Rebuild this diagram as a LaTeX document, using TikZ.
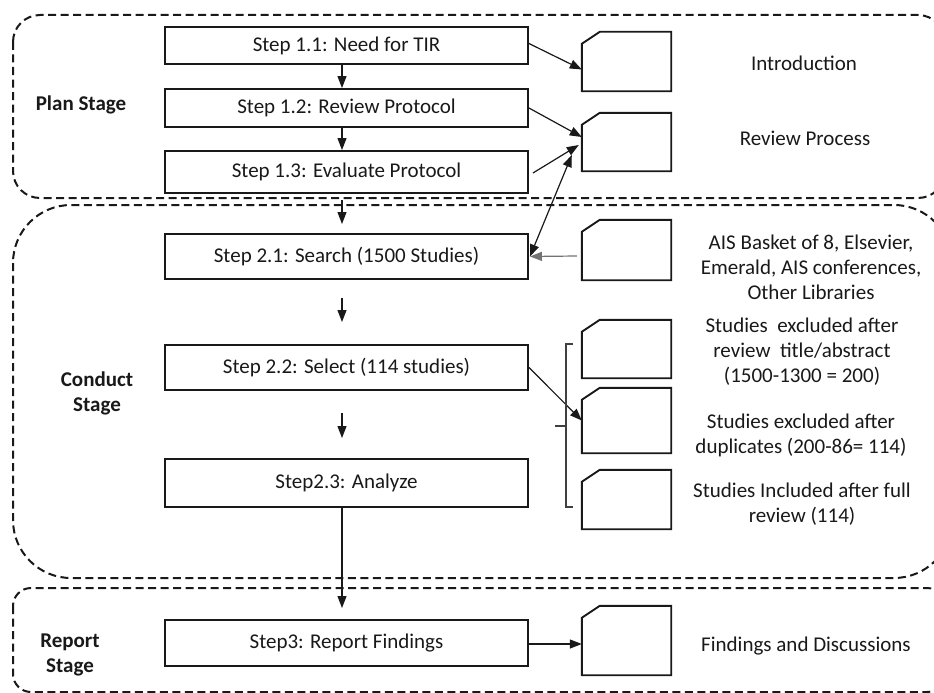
\documentclass[tikz,border=0pt]{standalone}
\usepackage{fontspec}
\setmainfont{Carlito}
\usetikzlibrary{arrows.meta}

% document-style shape: rectangle with a cut top-left corner
\newcommand\drawdoc[3]{%
  \node[docbox, minimum height=#3pt] (#1) at (626.5,#2) {};
  \draw[docline] ([yshift=-12pt]#1.north west) -- ([xshift=18pt]#1.north west)
    -- (#1.north east) -- (#1.south east) -- (#1.south west) -- cycle;}

\begin{document}
\begin{tikzpicture}[x=1pt,y=-1pt,
  every node/.style={font=\fontsize{21}{25}\selectfont, text=black!90},
  stage/.style={draw=black!90, line width=2pt, dash pattern=on 8pt off 4.5pt},
  stepbox/.style={draw=black!90, line width=1.9pt, minimum width=363pt, inner sep=0pt, fill=white},
  docbox/.style={minimum width=89pt, inner sep=0pt},
  docline/.style={draw=black!90, line width=1.9pt, fill=white},
  tip/.tip={Triangle[length=12pt,width=9pt]},
  conn/.style={line width=1.2pt, draw=black!90, -tip},
  stagelabel/.style={font=\fontsize{21}{25}\selectfont\bfseries, align=center},
  note/.style={align=center}]

\useasboundingbox (0,0) rectangle (934,693);
\clip (0,0) rectangle (934,693);
\fill[white] (0,0) rectangle (934,693);

% stage frames
\draw[stage, rounded corners=27pt] (13,15) rectangle (945,198);
\draw[stage, rounded corners=58pt] (13,205) rectangle (952,578);
\draw[stage, rounded corners=18pt] (13,588) rectangle (945,692);

% stage labels
\node[stagelabel] (lplan) at (81,105) {Plan Stage};
\node[stagelabel] (lconduct) at (97,393) {Conduct\\Stage};
\node[stagelabel] (lreport) at (70,655) {Report\\Stage};

% process steps
\node[stepbox, minimum height=37pt] (s11) at (346.5,45.5) {Step 1.1: Need for TIR};
\node[stepbox, minimum height=38pt] (s12) at (346.5,108) {Step 1.2: Review Protocol};
\node[stepbox, minimum height=42pt] (s13) at (346.5,172) {Step 1.3: Evaluate Protocol};
\node[stepbox, minimum height=45pt] (s21) at (346.5,256.5) {Step 2.1: Search (1500 Studies)};
\node[stepbox, minimum height=45pt] (s22) at (346.5,367.5) {Step 2.2: Select (114 studies)};
\node[stepbox, minimum height=48pt] (s23) at (346.5,483) {Step2.3: Analyze};
\node[stepbox, minimum height=46pt] (s3) at (346.5,643) {Step3: Report Findings};

% documents
\drawdoc{dintro}{61.5}{59}
\drawdoc{drev}{142}{58}
\drawdoc{dsrc}{250}{60}
\drawdoc{da}{349}{58}
\drawdoc{db}{420.5}{65}
\drawdoc{dc}{499.5}{59}
\drawdoc{drep}{640.5}{69}

% document captions
\node[note] (tintro) at (804,63) {Introduction};
\node[note] (trev) at (805,138) {Review Process};
\node[note] (tsrc) at (811,267) {AIS Basket of 8, Elsevier,\\Emerald, AIS conferences,\\Other Libraries};
\node[note] (ta) at (802,352) {Studies~ excluded after\\review~ title/abstract\\(1500-1300 = 200)};
\node[note] (tb) at (801,435.5) {Studies excluded after\\duplicates (200-86= 114)};
\node[note] (tc) at (802,504.5) {Studies Included after full\\review (114)};
\node[note] (trep) at (806,646) {Findings and Discussions};

% free ends of the flow arrows between stages
\coordinate (f1a) at (342,200);
\coordinate (f1b) at (342,224);
\coordinate (f2a) at (342,298);
\coordinate (f2b) at (342,322);
\coordinate (f3a) at (342,413);
\coordinate (f3b) at (342,438);
\coordinate (f4b) at (342,608);

% flow arrows
\draw[conn] ([xshift=-4.5pt]s11.south) -- ([xshift=-4.5pt]s12.north);
\draw[conn] ([xshift=-4.5pt]s12.south) -- ([xshift=-4.5pt]s13.north);
\draw[conn] (f1a) -- (f1b);
\draw[conn] (f2a) -- (f2b);
\draw[conn] (f3a) -- (f3b);
\draw[conn] ([xshift=-4.5pt]s23.south) -- (f4b);

% links to documents
\draw[conn] ([yshift=2pt]s11.east) -- ([yshift=-8pt]dintro.west);
\draw[conn] (s12.east) -- ([yshift=5pt]drev.west);
\draw[conn] ([shift={(4pt,-1pt)}]s13.east) -- ([shift={(-3pt,-3pt)}]drev.west);
\draw[conn, tip-tip]
  ([shift={(-10pt,-13pt)}]drev.west) -- ([xshift=1pt]s21.east);
\draw[conn, draw=black!55] ([shift={(-5pt,-6pt)}]dsrc.west) -- ([xshift=1pt]s21.east);
\draw[conn] (s22.east) -- (db.west);
\draw[conn] ([yshift=-1pt]s3.east) -- ([yshift=-1pt]s3.east -| drep.west);

% bracket grouping the selection documents
\draw[line width=1.1pt, draw=black!75] (573,344) -- (566,344) -- (566,507) -- (573,507);
\draw[line width=1.1pt, draw=black!75] (566,426) -- (555,426);
\end{tikzpicture}
\end{document}
